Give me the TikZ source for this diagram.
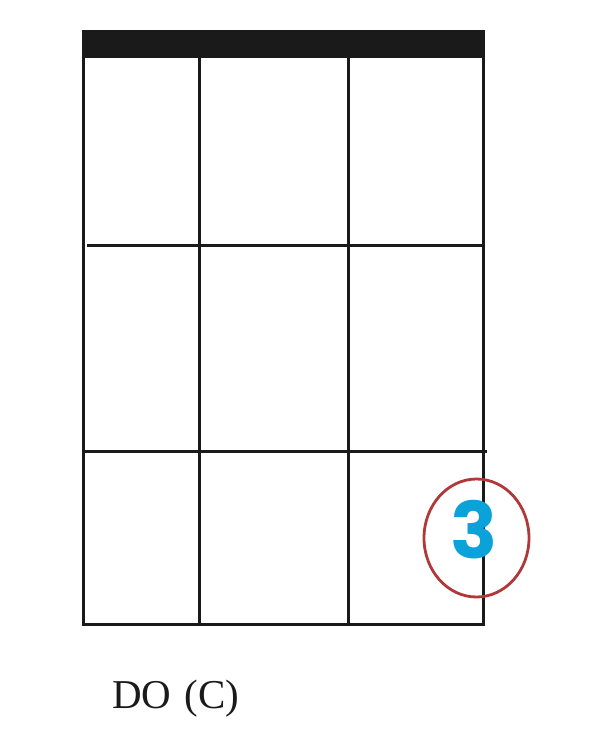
\documentclass[tikz,border=0pt]{standalone}
\usepackage{fontspec}
\usetikzlibrary{shapes.geometric}
\setmainfont{Liberation Serif}
\newfontfamily\numfont{Poppins}
\definecolor{gridblack}{HTML}{1A1A1A}
\definecolor{ringred}{HTML}{B03838}
\definecolor{numblue}{HTML}{0AA2D8}
\begin{document}
\begin{tikzpicture}[x=1pt,y=-1pt,
  gridline/.style={draw=gridblack,line width=3pt},
  ring/.style={draw=ringred,line width=2.8pt},
  label/.style={font=\fontsize{41}{41}\selectfont,text=gridblack,inner sep=0pt}]
\useasboundingbox (0,0) rectangle (598,750);
% nut bar
\fill[gridblack] (82,30) rectangle (485,58);
% frame
\draw[gridline] (83.5,58) -- (83.5,624) -- (483.5,624) -- (483.5,58);
% strings
\draw[gridline] (199,58) -- (199,624);
\draw[gridline] (348,58) -- (348,624);
% frets
\draw[gridline] (87,245) -- (484,245);
\draw[gridline] (84,451.5) -- (487,451.5);
% finger marker
\node[ring,ellipse,minimum width=105pt,minimum height=118pt,inner sep=0pt] (mark) at (476.5,538) {};
\node[text=numblue,font=\numfont\bfseries\fontsize{78}{78}\selectfont,inner sep=0pt] (num) at (474.5,530) {3};
% chord name
\node[label,anchor=base west] (name) at (112,708) {DO\hspace{3pt} (C)};
\end{tikzpicture}
\end{document}
